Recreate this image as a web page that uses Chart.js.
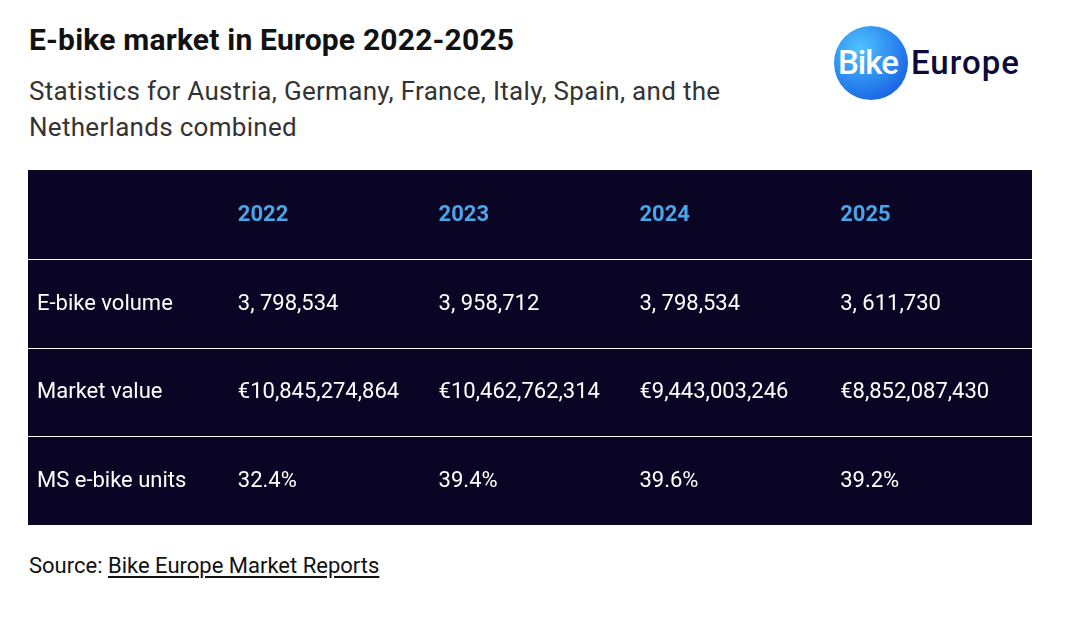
<!DOCTYPE html>
<html lang="en">
<head>
<meta charset="UTF-8">
<title>E-bike market in Europe 2022-2025</title>
<script src="https://cdn.jsdelivr.net/npm/chart.js"></script>
<style>
  body { margin: 0; background: #fff; width: 1080px; height: 619px; position: relative; overflow: hidden; }
  body * { font-family: Roboto, "Noto Sans", Arial, sans-serif; }
  h1 { position: absolute; left: 29px; top: 22px; margin: 0; font-size: 30px; font-weight: 700; color: #111; letter-spacing: 0.2px; }
  .sub { position: absolute; left: 29px; top: 73px; width: 740px; margin: 0; font-size: 26px; line-height: 36px; color: #333; letter-spacing: 0.3px; }
  #wrap { position: absolute; left: 28px; top: 170px; width: 1004px; height: 355px; }
  .src { position: absolute; left: 29px; top: 553px; font-size: 22px; color: #111; letter-spacing: 0; }
  .src u { text-underline-offset: 3px; }
  .logo { position: absolute; left: 834px; top: 26px; height: 74px; }
  .circle { position: absolute; left: 0; top: 0; width: 74px; height: 74px; border-radius: 50%;
    background: radial-gradient(circle at 35% 30%, #4fc3ff, #1e6fe8 70%, #1a4fd0); }
  .bike { position: absolute; left: 4px; top: 17px; font-size: 33px; font-weight: 500; color: #fff; letter-spacing: -1px; }
  .eur { position: absolute; left: 77px; top: 17px; font-size: 33px; font-weight: 500; color: #0b0a3a; letter-spacing: 1px; }
</style>
</head>
<body>
<h1>E-bike market in Europe 2022-2025</h1>
<p class="sub">Statistics for Austria, Germany, France, Italy, Spain, and the Netherlands combined</p>
<div class="logo"><div class="circle"></div><span class="bike">Bike</span><span class="eur">Europe</span></div>
<div id="wrap"><canvas id="tbl" width="1004" height="355"></canvas></div>
<div class="src">Source: <u>Bike Europe Market Reports</u></div>
<script>
const years = ['2022', '2023', '2024', '2025'];
const rowLabels = ['E-bike volume', 'Market value', 'MS e-bike units'];
const volume = ['3, 798,534', '3, 958,712', '3, 798,534', '3, 611,730'];
const marketValue = ['€10,845,274,864', '€10,462,762,314', '€9,443,003,246', '€8,852,087,430'];
const msUnits = ['32.4%', '39.4%', '39.6%', '39.2%'];

const grid = [[''].concat(years)];
[volume, marketValue, msUnits].forEach((r, i) => grid.push([rowLabels[i]].concat(r)));

const cells = [];
grid.forEach((row, r) => row.forEach((t, c) => cells.push({ x: c, y: r + 0.5, t: t, head: r === 0 })));

const tablePlugin = {
  id: 'tablePlugin',
  beforeDraw(chart) {
    const { ctx, chartArea: a, scales: { x, y } } = chart;
    ctx.save();
    ctx.fillStyle = '#0a0524';
    ctx.fillRect(a.left, a.top, a.right - a.left, a.bottom - a.top);
    ctx.strokeStyle = '#ffffff';
    ctx.lineWidth = 1;
    for (let i = 1; i < grid.length; i++) {
      const py = Math.round(y.getPixelForValue(i)) + 0.5;
      ctx.beginPath(); ctx.moveTo(a.left, py); ctx.lineTo(a.right, py); ctx.stroke();
    }
    ctx.restore();
  },
  afterDatasetsDraw(chart) {
    const { ctx, scales: { x, y } } = chart;
    ctx.save();
    ctx.textBaseline = 'middle';
    ctx.textAlign = 'left';
    cells.forEach(c => {
      ctx.font = (c.head ? '700 ' : '400 ') + '22px Roboto, sans-serif';
      ctx.fillStyle = c.head ? '#4aa6e8' : '#ffffff';
      ctx.fillText(c.t, x.getPixelForValue(c.x) + 9, y.getPixelForValue(c.y) + 1);
    });
    ctx.restore();
  }
};

new Chart(document.getElementById('tbl'), {
  type: 'scatter',
  data: { datasets: [{ data: cells.map(c => ({ x: c.x, y: c.y })), pointRadius: 0 }] },
  options: {
    responsive: false,
    animation: false,
    layout: { padding: 0 },
    plugins: { legend: { display: false }, tooltip: { enabled: false } },
    scales: {
      x: { type: 'linear', min: 0, max: 5, display: false },
      y: { type: 'linear', min: 0, max: 4, reverse: true, display: false }
    }
  },
  plugins: [tablePlugin]
});
</script>
</body>
</html>
